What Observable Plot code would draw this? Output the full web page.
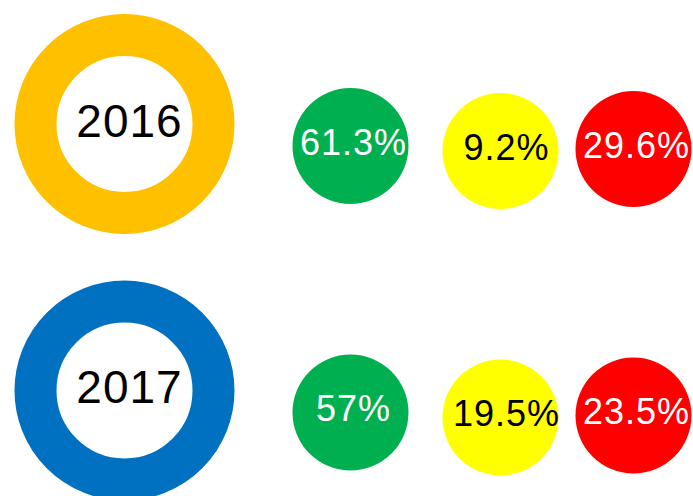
<!DOCTYPE html>
<html><head><meta charset="utf-8">
<script src="https://cdn.jsdelivr.net/npm/d3@7"></script>
<script src="https://cdn.jsdelivr.net/npm/@observablehq/plot@0.6"></script>
<style>html,body{margin:0;padding:0;background:#fff}#chart{width:693px;height:496px}</style>
</head><body><div id="chart"></div>
<script>
const years = ["2016", "2017"];
const ringColors = ["#FFC000", "#0070C0"];
const statuses = ["green", "yellow", "red"];
const statusColors = ["#00B050", "#FFFF00", "#FF0000"];
const statusTextColors = ["#FFFFFF", "#000000", "#FFFFFF"];
const values2016 = [61.3, 9.2, 29.6];
const values2017 = [57, 19.5, 23.5];

const columns = ["year", ...statuses];
const valuesByYear = [values2016, values2017];

const rings = years.map((y, i) => ({year: y, col: "year", color: ringColors[i]}));
const dots = years.flatMap((y, i) =>
  statuses.map((s, j) => ({
    year: y, col: s, value: valuesByYear[i][j],
    fill: statusColors[j], text: statusTextColors[j]
  }))
);

const dyFor = {green: 22, yellow: 27, red: 25};
const dotMarks = statuses.flatMap(s => [
  Plot.dot(dots.filter(d => d.col === s), {
    x: "col", y: "year", r: 58, fill: d => d.fill, stroke: null, dy: dyFor[s]
  }),
  Plot.text(dots.filter(d => d.col === s), {
    x: "col", y: "year", text: d => d.value + "%", fill: d => d.text,
    dy: dyFor[s] - 3, dx: s === "yellow" ? 6 : 3,
    fontSize: 36, fontFamily: "Liberation Sans, Arial, sans-serif"
  })
]);

const chart = Plot.plot({
  width: 693, height: 496,
  marginTop: 0, marginBottom: 0, marginLeft: 0, marginRight: 0,
  x: {type: "ordinal", domain: columns, range: [124, 350, 500, 633], axis: null},
  y: {type: "ordinal", domain: years, range: [123.5, 390], axis: null},
  style: {background: "#fff", overflow: "hidden", letterSpacing: "1px"},
  marks: [
    Plot.dot(rings, {x: "col", y: "year", r: 89, stroke: d => d.color, strokeWidth: 42, fill: "none"}),
    Plot.text(rings, {x: "col", y: "year", text: "year", dx: 5, dy: -2, fill: "#000",
      fontSize: 46, fontFamily: "Liberation Sans, Arial, sans-serif"}),
    ...dotMarks
  ]
});
document.getElementById("chart").append(chart);
</script>
</body></html>
